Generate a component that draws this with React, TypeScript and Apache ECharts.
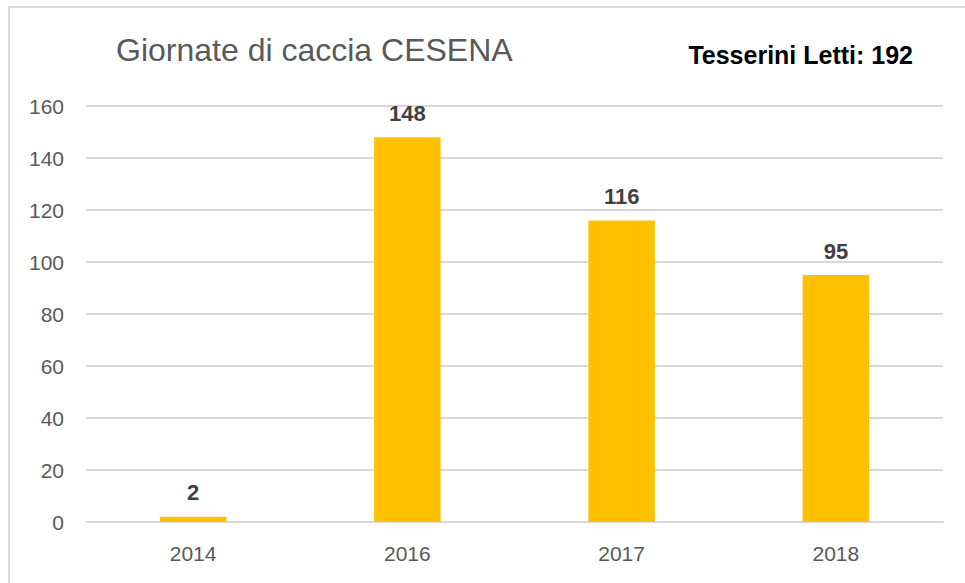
import React, { useEffect, useRef } from "react";
import * as echarts from "echarts";

const categories = ["2014", "2016", "2017", "2018"];
const values = [2, 148, 116, 95];
const titleText = "Giornate di caccia CESENA";
const subText = "Tesserini Letti: 192";

export default function App() {
  const ref = useRef<HTMLDivElement>(null);
  useEffect(() => {
    const chart = echarts.init(ref.current!, null, { renderer: "svg" });
    chart.setOption({
      animation: false,
      backgroundColor: "#ffffff",
      textStyle: { fontFamily: "Liberation Sans" },
      graphic: [
        {
          type: "rect",
          shape: { x: 9, y: 7, width: 965, height: 590 },
          style: { fill: "none", stroke: "#d9d9d9", lineWidth: 2 },
          silent: true,
        },
        {
          type: "text",
          x: 116,
          y: 50,
          style: {
            text: titleText,
            font: "normal 32px 'Liberation Sans'",
            fill: "#595959",
            align: "left",
            verticalAlign: "middle",
          },
        },
        {
          type: "text",
          x: 913,
          y: 55,
          style: {
            text: subText,
            font: "bold 25px 'Liberation Sans'",
            fill: "#000000",
            align: "right",
            verticalAlign: "middle",
          },
        },
      ],
      grid: { left: 86, right: 22, top: 106, bottom: 61, containLabel: false },
      xAxis: {
        type: "category",
        data: categories,
        axisLine: { show: true, lineStyle: { color: "#d9d9d9", width: 2 } },
        axisTick: { show: false },
        axisLabel: { color: "#595959", fontSize: 21, margin: 21 },
      },
      yAxis: {
        type: "value",
        min: 0,
        max: 160,
        interval: 20,
        axisLine: { show: false },
        axisTick: { show: false },
        axisLabel: { color: "#595959", fontSize: 21, margin: 22 },
        splitLine: { lineStyle: { color: "#d9d9d9", width: 2 } },
      },
      series: [
        {
          type: "bar",
          data: values,
          barWidth: "31%",
          itemStyle: { color: "#FFC000" },
          label: {
            show: true,
            position: "top",
            distance: 13,
            color: "#404040",
            fontSize: 22,
            fontWeight: "bold",
          },
        },
      ],
    });
    return () => chart.dispose();
  }, []);
  return (
    <div
      ref={ref}
      style={{ position: "fixed", left: 0, top: 0, width: 965, height: 583 }}
    />
  );
}
